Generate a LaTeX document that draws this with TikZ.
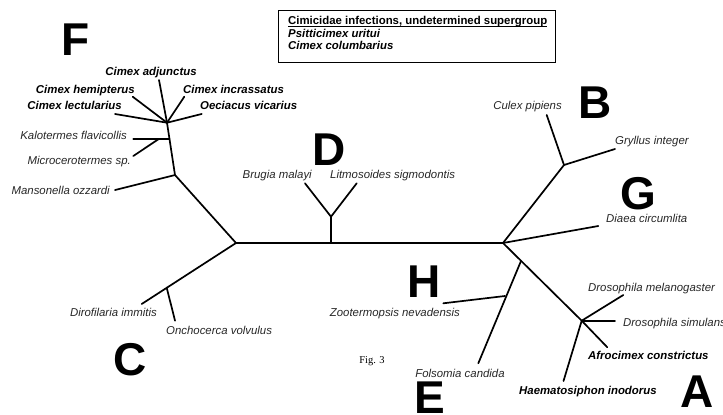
\documentclass[tikz,border=0pt]{standalone}
\usepackage{fontspec}
\setmainfont{Liberation Sans}
\newfontfamily\figfont{Liberation Serif}
\begin{document}
\begin{tikzpicture}[x=1pt,y=-1pt,
  branch/.style={line width=1.7pt, line cap=round},
  lab/.style={inner sep=0pt, font=\fontsize{11.4}{12.5}\selectfont\itshape, text=black!85},
  blab/.style={inner sep=0pt, font=\fontsize{11.4}{12.5}\selectfont\bfseries\itshape},
  big/.style={inner sep=0pt, font=\fontsize{46}{46}\selectfont\bfseries}]
\useasboundingbox (0,0) rectangle (723,415);
% internal nodes
\coordinate (L) at (236,243);
\coordinate (R) at (503,243);
\coordinate (Fm) at (175,175);
\coordinate (Fk) at (169.5,139.3);
\coordinate (Fc) at (167,122.7);
\coordinate (Fk2) at (158.3,139.3);
\coordinate (Dj) at (331,243);
\coordinate (Dn) at (331,216.7);
\coordinate (Bn) at (564,165);
\coordinate (An) at (581.7,320.7);
\coordinate (EHj) at (521,261);
\coordinate (Hj) at (505,296);
\coordinate (Cj) at (166.7,287.6);
% leaf ends
\coordinate (eAdj) at (159,80);
\coordinate (eHem) at (132.7,96.7);
\coordinate (eLec) at (115,114);
\coordinate (eInc) at (184.3,96.7);
\coordinate (eOec) at (201.7,114);
\coordinate (eKal) at (133.3,139.3);
\coordinate (eMic) at (133.3,156);
\coordinate (eMan) at (115,190);
\coordinate (eBru) at (305,183.3);
\coordinate (eLit) at (356.7,183.3);
\coordinate (eCul) at (546.7,115);
\coordinate (eGry) at (615,149);
\coordinate (eDia) at (598.3,226);
\coordinate (eMel) at (623.3,295);
\coordinate (eSim) at (615,320.7);
\coordinate (eAfr) at (607.3,347.3);
\coordinate (eHae) at (563.5,381);
\coordinate (eZoo) at (443.3,303.3);
\coordinate (eFol) at (478.3,363.3);
\coordinate (eDir) at (141.7,304);
\coordinate (eOnc) at (175,320.7);
% branches
\draw[branch] (L) -- (R);
\draw[branch] (L) -- (Fm) -- (Fc);
\draw[branch] (Fm) -- (eMan);
\draw[branch] (Fk) -- (eKal);
\draw[branch] (Fk2) -- (eMic);
\draw[branch] (Fc) -- (eAdj);
\draw[branch] (Fc) -- (eHem);
\draw[branch] (Fc) -- (eLec);
\draw[branch] (Fc) -- (eInc);
\draw[branch] (Fc) -- (eOec);
\draw[branch] (Dj) -- (Dn);
\draw[branch] (Dn) -- (eBru);
\draw[branch] (Dn) -- (eLit);
\draw[branch] (R) -- (Bn);
\draw[branch] (Bn) -- (eCul);
\draw[branch] (Bn) -- (eGry);
\draw[branch] (R) -- (eDia);
\draw[branch] (R) -- (An) -- (eAfr);
\draw[branch] (An) -- (eMel);
\draw[branch] (An) -- (eSim);
\draw[branch] (An) -- (eHae);
\draw[branch] (EHj) -- (eFol);
\draw[branch] (Hj) -- (eZoo);
\draw[branch] (L) -- (eDir);
\draw[branch] (Cj) -- (eOnc);
% labels
\node[blab, anchor=mid] (tAdj) at (151,73) {Cimex adjunctus};
\node[blab, anchor=mid east] (tHem) at (135,90.5) {Cimex hemipterus};
\node[blab, anchor=mid east] (tLec) at (122,107) {Cimex lectularius};
\node[blab, anchor=mid west] (tInc) at (183,90.5) {Cimex incrassatus};
\node[blab, anchor=mid west] (tOec) at (200,107) {Oeciacus vicarius};
\node[lab, anchor=mid east] (tKal) at (127,137) {Kalotermes flavicollis};
\node[lab, anchor=mid east] (tMic) at (131,162) {Microcerotermes sp.};
\node[lab, anchor=mid east] (tMan) at (110,192) {Mansonella ozzardi};
\node[lab, anchor=mid east] (tBru) at (312,176) {Brugia malayi};
\node[lab, anchor=mid west] (tLit) at (330,176) {Litmosoides sigmodontis};
\node[lab, anchor=mid east] (tCul) at (562,107) {Culex pipiens};
\node[lab, anchor=mid west] (tGry) at (615,142) {Gryllus integer};
\node[lab, anchor=mid west] (tDia) at (606,220) {Diaea circumlita};
\node[lab, anchor=mid west] (tMel) at (588,288.5) {Drosophila melanogaster};
\node[lab, anchor=mid west] (tSim) at (623,324) {Drosophila simulans};
\node[blab, anchor=mid west] (tAfr) at (588,357) {Afrocimex constrictus};
\node[blab, anchor=mid west] (tHae) at (519,392) {Haematosiphon inodorus};
\node[lab, anchor=mid east] (tZoo) at (460,314) {Zootermopsis nevadensis};
\node[lab, anchor=mid] (tFol) at (460,375) {Folsomia candida};
\node[lab, anchor=mid east] (tDir) at (157,314) {Dirofilaria immitis};
\node[lab, anchor=mid west] (tOnc) at (166,332) {Onchocerca volvulus};
\node[inner sep=0pt, font=\figfont\fontsize{10.5}{12}\selectfont, anchor=mid] (fig) at (372,361) {Fig. 3};
% big letters
\node[big] (lF) at (76,40) {F};
\node[big] (lB) at (595,103) {B};
\node[big] (lD) at (329,150) {D};
\node[big] (lG) at (638,193.5) {G};
\node[big] (lH) at (424,282) {H};
\node[big, anchor=north] (lE) at (430,382) {E};
\node[big] (lA) at (697,392) {A};
\node[big] (lC) at (130,360) {C};
% legend box
\draw[line width=0.9pt] (278,10) rectangle (555,62);
\node[inner sep=0pt, anchor=mid west, font=\fontsize{11.4}{12.5}\selectfont\bfseries] (b1) at (288,22) {Cimicidae infections, undetermined supergroup};
\draw[line width=0.8pt] ([yshift=-1.5pt]b1.base west) -- ([yshift=-1.5pt]b1.base east);
\node[inner sep=0pt, anchor=mid west, font=\fontsize{11.4}{12.5}\selectfont\bfseries\itshape] (b2) at (288,34.5) {Psitticimex uritui};
\node[inner sep=0pt, anchor=mid west, font=\fontsize{11.4}{12.5}\selectfont\bfseries\itshape] (b3) at (288,47) {Cimex columbarius};
\end{tikzpicture}
\end{document}
